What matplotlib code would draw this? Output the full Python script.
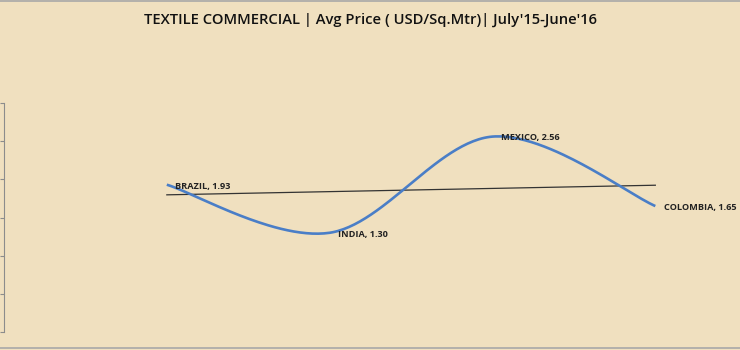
import numpy as np
import matplotlib.pyplot as plt
from matplotlib.lines import Line2D

countries = ['BRAZIL', 'INDIA', 'MEXICO', 'COLOMBIA']
prices = [1.93, 1.30, 2.56, 1.65]
title = "TEXTILE COMMERCIAL | Avg Price ( USD/Sq.Mtr)| July'15-June'16"

bg = '#F0E0BF'
fig = plt.figure(figsize=(7.4, 3.5), dpi=100, facecolor=bg)
ax = fig.add_axes([0.0054, 0.0514, 0.9946, 0.6543])
ax.set_facecolor('none')

x = np.arange(len(prices), dtype=float)
y = np.array(prices)

# smoothed line (Catmull-Rom style, as excel does), computed in pixel-ish units
sx, sy = 163.0, 76.3
px, py = x * sx, y * sy
P = np.column_stack([px, py])
P_ext = np.vstack([P[0], P, P[-1]])
curve = []
t = np.linspace(0, 1, 60)
for i in range(len(P) - 1):
    p0, p1, p2, p3 = P_ext[i], P_ext[i + 1], P_ext[i + 2], P_ext[i + 3]
    c1 = p1 + (p2 - p0) / 6
    c2 = p2 - (p3 - p1) / 6
    b = ((1 - t) ** 3)[:, None] * p1 + (3 * (1 - t) ** 2 * t)[:, None] * c1 \
        + (3 * (1 - t) * t ** 2)[:, None] * c2 + (t ** 3)[:, None] * p2
    curve.append(b)
curve = np.vstack(curve)
ax.plot(curve[:, 0] / sx, curve[:, 1] / sy, color='#4A7EC7', lw=1.9,
        solid_capstyle='butt', zorder=3)

# linear trendline
k, c = np.polyfit(x, y, 1)
ax.plot(x, k * x + c, color='#333333', lw=0.9, zorder=2)

for xi, yi, name in zip(x, y, countries):
    ax.annotate(f'{name}, {yi:.2f}', (xi, yi), xytext=(6, -1),
                textcoords='offset points', ha='left', va='center',
                fontsize=6.6, fontweight='bold', family='Open Sans',
                color='#222222', zorder=4)

ax.set_xlim(-1.0, 3.52)
ax.set_ylim(0, 3)
ax.set_yticks(np.arange(0, 3.01, 0.5))
ax.set_yticklabels([])
ax.set_xticks([])
for s in ['top', 'right', 'bottom']:
    ax.spines[s].set_visible(False)
ax.spines['left'].set_color('#8C8C8C')
ax.spines['left'].set_linewidth(0.8)
ax.tick_params(axis='y', direction='out', length=3, color='#8C8C8C', width=0.8)

fig.text(0.5, 0.943, title, ha='center', va='center', fontsize=10.6,
         family='Open Sans', fontweight='semibold', color='#111111')

# thin grey borders at top and bottom
fig.add_artist(Line2D([0, 1], [0.998, 0.998], color='#A8A8A8', lw=1.2))
fig.add_artist(Line2D([0, 1], [0.006, 0.006], color='#A8A8A8', lw=1.2))

fig.savefig('out.png', dpi=100, facecolor=bg)
